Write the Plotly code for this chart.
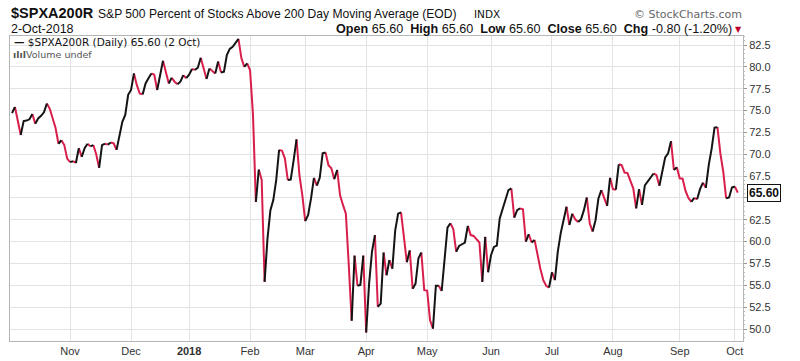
import pandas as pd
import plotly.graph_objects as go

# ---- trading calendar (x categories) ----
holidays = ["2017-11-23", "2017-12-25", "2018-01-01", "2018-01-15", "2018-02-19",
            "2018-03-30", "2018-05-28", "2018-07-04", "2018-09-03"]
sessions = pd.bdate_range("2017-10-02", "2018-10-02")
sessions = sessions[~sessions.isin(pd.to_datetime(holidays))]

# ---- series: trading-session number and % of stocks above 200-day MA ----
day = [2, 3, 5, 6, 7, 8, 9, 10, 11, 12, 13, 14, 15, 17, 18, 19, 20, 21, 22, 23,
       24, 25, 26, 27, 28, 29, 30, 31, 32, 33, 34, 35, 36, 37, 38, 39, 40, 41, 42, 43,
       44, 45, 46, 47, 48, 49, 50, 51, 52, 53, 54, 55, 56, 57, 58, 59, 60, 61, 62, 63,
       64, 65, 66, 67, 68, 69, 70, 71, 72, 73, 74, 75, 76, 77, 78, 79, 80, 81, 82, 83,
       84, 85, 86, 87, 88, 89, 90, 91, 92, 93, 94, 95, 96, 97, 98, 99, 100, 101, 102, 103,
       104, 105, 106, 107, 108, 109, 110, 111, 112, 113, 114, 115, 116, 117, 118, 119, 120, 121, 122, 123,
       124, 125, 126, 127, 128, 129, 130, 131, 132, 133, 134, 135, 136, 137, 138, 139, 140, 141, 142, 143,
       144, 145, 146, 147, 148, 149, 150, 151, 152, 153, 154, 155, 156, 157, 158, 159, 160, 161, 162, 163,
       164, 165, 166, 167, 168, 169, 170, 171, 172, 173, 174, 175, 176, 177, 178, 179, 180, 181, 182, 183,
       184, 185, 186, 187, 188, 189, 190, 191, 192, 193, 194, 195, 196, 197, 198, 199, 200, 201, 202, 203,
       204, 205, 206, 207, 208, 209, 210, 211, 212, 213, 214, 216, 217, 218, 219, 220, 221, 222, 223, 224,
       225, 226, 227, 228, 229, 230, 231, 232, 233, 234, 235, 236, 237, 238, 239, 240, 241, 242, 243, 244,
       245, 246, 247, 248, 249, 250, 251, 252]
pct = [74.7, 75.4, 72.2, 73.8, 73.85, 74.0, 74.6, 73.5, 74.1, 74.4, 74.8, 75.8, 75.2, 73.0, 71.2, 71.6, 71.05, 69.5, 69.1, 69.2,
       69.0, 70.7, 69.7, 70.7, 71.2, 70.9, 71.05, 70.0, 68.45, 71.05, 71.2, 71.1, 71.35, 71.25, 70.5, 72.2, 73.7, 74.5, 76.8, 77.35,
       79.25, 77.9, 76.95, 76.85, 78.1, 78.7, 79.25, 79.1, 77.35, 79.05, 80.7, 79.45, 78.1, 78.75, 78.3, 78.0, 78.3, 79.05, 78.7, 79.1,
       79.75, 79.65, 79.9, 81.05, 79.65, 78.6, 79.8, 79.5, 79.25, 80.6, 79.35, 79.45, 81.35, 82.05, 82.3, 82.8, 83.2, 81.0, 80.0, 80.4,
       79.6, 74.5, 64.55, 68.25, 67.05, 55.4, 60.35, 63.6, 64.75, 67.05, 70.5, 70.4, 69.5, 67.05, 67.1, 69.3, 71.7, 67.6, 65.3, 62.35,
       63.05, 64.95, 67.3, 66.4, 67.3, 70.1, 70.2, 68.75, 68.4, 67.15, 68.2, 65.3, 64.2, 63.2, 57.3, 50.95, 58.4, 54.95, 55.05, 58.4,
       49.6, 55.2, 58.85, 60.75, 52.55, 52.9, 58.75, 56.15, 57.9, 56.9, 61.3, 63.2, 63.35, 60.55, 57.65, 59.0, 54.6, 55.2, 58.1, 58.75,
       54.45, 54.4, 51.0, 50.05, 54.95, 54.95, 54.35, 58.15, 61.6, 62.1, 61.45, 58.85, 59.5, 59.7, 59.9, 61.8, 60.75, 60.65, 60.3, 59.9,
       55.4, 60.55, 56.5, 58.45, 59.4, 59.55, 62.65, 63.8, 64.75, 65.9, 66.1, 62.75, 63.6, 63.8, 63.7, 60.0, 60.85, 59.9, 60.2, 58.45,
       56.9, 55.6, 54.95, 54.75, 56.5, 55.6, 58.85, 60.95, 62.45, 64.0, 61.9, 63.2, 62.55, 62.25, 62.55, 63.6, 65.05, 62.1, 61.15, 62.45,
       64.95, 65.9, 64.95, 64.1, 67.3, 66.0, 65.95, 68.85, 68.75, 67.9, 67.85, 66.1, 63.8, 66.0, 64.2, 66.45, 66.9, 67.3, 67.8, 67.6,
       66.4, 68.0, 69.65, 70.1, 71.5, 68.2, 68.5, 67.25, 67.2, 65.8, 65.0, 64.55, 65.0, 64.85, 66.0, 66.75, 66.15, 68.75, 70.65, 73.05,
       73.1, 70.1, 68.0, 64.95, 65.05, 66.2, 66.3, 65.6]

month_labels = ["Nov", "Dec", "<b>2018</b>", "Feb", "Mar", "Apr", "May", "Jun",
                "Jul", "Aug", "Sep", "Oct"]
y_ticks = [50.0, 52.5, 55.0, 57.5, 60.0, 62.5, 65.0, 67.5, 70.0, 72.5, 75.0, 77.5, 80.0, 82.5]
last_value = 65.60

# first session of each month (Nov 2017 .. Oct 2018)
idx = pd.Series(range(len(sessions)), index=sessions)
firsts = idx.groupby([sessions.year, sessions.month]).min().values[1:]
tick_pos = [int(v) for v in firsts]

# y tick labels; the one under the last-value flag is hidden by it
y_text = ["" if abs(v - last_value) < 1.0 else "%.1f" % v for v in y_ticks]

# ---- split into rising (black) / falling (red) runs ----
runs = []
cur = None
for i in range(len(day) - 1):
    d = pct[i + 1] >= pct[i]
    if d != cur:
        runs.append([d, [i]])
        cur = d
    runs[-1][1].append(i + 1)

ux, uy, dx, dy = [], [], [], []
for d, ids in runs:
    tx, ty = (ux, uy) if d else (dx, dy)
    tx += [day[k] for k in ids] + [None]
    ty += [pct[k] for k in ids] + [None]

BLACK = "#141414"
RED = "#d81f4b"

fig = go.Figure()
fig.add_trace(go.Scatter(x=dx, y=dy, mode="lines", line=dict(color=RED, width=2),
                         hoverinfo="skip", showlegend=False))
fig.add_trace(go.Scatter(x=ux, y=uy, mode="lines", line=dict(color=BLACK, width=2),
                         hoverinfo="skip", showlegend=False))

ARIAL = "Liberation Sans, Arial, sans-serif"

fig.update_layout(
    width=800, height=361,
    margin=dict(l=10, r=57, t=36, b=20, autoexpand=False),
    paper_bgcolor="white", plot_bgcolor="white",
    font=dict(family=ARIAL, size=11, color="#333"),
    xaxis=dict(range=[1.3, 253.8], tickvals=tick_pos, ticktext=month_labels,
               showgrid=True, gridcolor="#e3e3e3", gridwidth=1, automargin=False,
               showline=True, linecolor="#b5b5b5", mirror=True, linewidth=1,
               zeroline=False, ticks="", tickfont=dict(size=11, color="#333")),
    yaxis=dict(range=[48.63, 83.53], side="right", tickvals=y_ticks, ticktext=y_text,
               showgrid=True, gridcolor="#e3e3e3", gridwidth=1, automargin=False,
               showline=True, linecolor="#b5b5b5", mirror=True, linewidth=1,
               zeroline=False, ticks="outside", ticklen=3, tickcolor="#999",
               minor=dict(dtick=0.5, ticks="outside", ticklen=1, tickcolor="#bbb", showgrid=False),
               tickfont=dict(size=11, color="#333")),
)

ann = []
ann.append(dict(xref="paper", yref="paper", x=-0.001, y=1.075, xanchor="left", yanchor="middle",
                text="<b>$SPXA200R</b>", font=dict(family=ARIAL, size=14.5, color="#111"), showarrow=False))
ann.append(dict(xref="paper", yref="paper", x=0.118, y=1.072, xanchor="left", yanchor="middle",
                text="S&P 500 Percent of Stocks Above 200 Day Moving Average (EOD)",
                font=dict(family=ARIAL, size=12.1, color="#111"), showarrow=False))
ann.append(dict(xref="paper", yref="paper", x=0.630, y=1.072, xanchor="left", yanchor="middle",
                text="INDX", font=dict(family="DejaVu Sans", size=10.5, color="#111"), showarrow=False))
ann.append(dict(xref="paper", yref="paper", x=1.002, y=1.072, xanchor="right", yanchor="middle",
                text="© StockCharts.com", font=dict(family="DejaVu Sans", size=11, color="#666"), showarrow=False))
ann.append(dict(xref="paper", yref="paper", x=-0.001, y=1.022, xanchor="left", yanchor="middle",
                text="2-Oct-2018", font=dict(family=ARIAL, size=12.5, color="#111"), showarrow=False))
ann.append(dict(xref="paper", yref="paper", x=0.988, y=1.022, xanchor="right", yanchor="middle",
                text="<b>Open</b> 65.60  <b>High</b> 65.60  <b>Low</b> 65.60  <b>Close</b> 65.60  <b>Chg</b> -0.80 (-1.20%)",
                font=dict(family=ARIAL, size=12.6, color="#111"), showarrow=False))
ann.append(dict(xref="paper", yref="paper", x=1.001, y=1.022, xanchor="right", yanchor="middle",
                text="▼", font=dict(family="DejaVu Sans", size=8, color="#c0002a"), showarrow=False))
ann.append(dict(xref="paper", yref="paper", x=0.003, y=0.980, xanchor="left", yanchor="middle",
                text="<b>—</b> $SPXA200R (Daily) 65.60 (2 Oct)",
                font=dict(family="DejaVu Sans", size=10.5, color="#111"), showarrow=False))
ann.append(dict(xref="paper", yref="paper", x=0.002, y=0.940, xanchor="left", yanchor="middle",
                text="<b>ılıl</b>Volume undef",
                font=dict(family="DejaVu Sans", size=9.5, color="#555"), showarrow=False))
ann.append(dict(xref="paper", yref="y", x=1.0, y=last_value, xanchor="left", yanchor="middle",
                xshift=4, text="<b>%.2f</b>" % last_value, bgcolor="white", bordercolor="#111",
                borderwidth=1, borderpad=1, font=dict(family=ARIAL, size=12, color="#111"),
                showarrow=False))
fig.update_layout(annotations=ann)

fig.write_html("out.html", config={"displayModeBar": False},
               post_script="document.body.style.margin='0';document.body.style.overflow='hidden';")
